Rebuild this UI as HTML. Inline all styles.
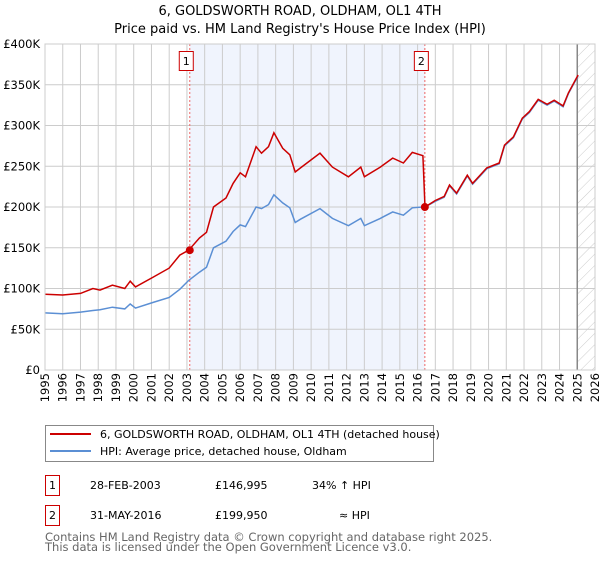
<!DOCTYPE html>
<html><head><meta charset="utf-8"><style>
body{margin:0;background:#fff;}
svg text{font-family:"DejaVu Sans","Liberation Sans",sans-serif;}
</style></head><body>
<svg id="chart" width="600" height="560" xmlns="http://www.w3.org/2000/svg">
<defs>
<pattern id="hatch" patternUnits="userSpaceOnUse" width="8" height="8" patternTransform="rotate(45)">
<line x1="0" y1="0" x2="0" y2="8" stroke="#ccc" stroke-width="1"/></pattern>
</defs>
<text x="300" y="15" text-anchor="middle" font-size="13">6, GOLDSWORTH ROAD, OLDHAM, OL1 4TH</text>
<text x="300" y="33" text-anchor="middle" font-size="13">Price paid vs. HM Land Registry's House Price Index (HPI)</text>
<g id="plot"></g>
<g>
<rect x="45.5" y="425.5" width="388" height="36" fill="#fff" stroke="#888"/>
<line x1="50" y1="434" x2="91" y2="434" stroke="#cc0000" stroke-width="2"/>
<text x="100" y="438" font-size="11">6, GOLDSWORTH ROAD, OLDHAM, OL1 4TH (detached house)</text>
<line x1="50" y1="451" x2="91" y2="451" stroke="#5b8fd4" stroke-width="2"/>
<text x="100" y="455" font-size="11">HPI: Average price, detached house, Oldham</text>
</g>
<g font-size="11">
<rect x="45.5" y="475.5" width="14" height="20" fill="#fff" stroke="#cc0000"/>
<text x="52.5" y="489" text-anchor="middle">1</text>
<text x="90" y="489">28-FEB-2003</text>
<text x="215" y="489">£146,995</text>
<text x="312" y="489">34% ↑ HPI</text>
<rect x="45.5" y="505.5" width="14" height="20" fill="#fff" stroke="#cc0000"/>
<text x="52.5" y="519" text-anchor="middle">2</text>
<text x="90" y="519">31-MAY-2016</text>
<text x="215" y="519">£199,950</text>
<text x="339" y="519">≈ HPI</text>
</g>
<g font-size="11.5" fill="#666">
<text x="45" y="541">Contains HM Land Registry data © Crown copyright and database right 2025.</text>
<text x="45" y="551">This data is licensed under the Open Government Licence v3.0.</text>
</g>
</svg>
<script>
const years=[1995,1996,1997,1997.7,1998.1,1998.8,1999.5,1999.8,2000.1,2001.1,2002.0,2002.6,2003.1,2003.7,2004.1,2004.5,2005.2,2005.6,2006.0,2006.3,2006.9,2007.2,2007.6,2007.9,2008.4,2008.8,2009.1,2009.4,2010.5,2011.2,2012.1,2012.8,2013.0,2013.9,2014.6,2015.2,2015.7,2016.3,2016.42,2017.0,2017.5,2017.8,2018.2,2018.8,2019.1,2019.9,2020.6,2020.9,2021.4,2021.9,2022.3,2022.8,2023.3,2023.7,2024.2,2024.5,2025.05];
const priceK=[93,92,94,100,98,104,100,109,102,114,125,141,147,162,169,200,211,229,242,237,274,266,274,291,272,264,243,248,266,249,237,249,237,249,260,254,267,263,200,208,213,227,217,239,229,248,254,276,286,309,317,332,326,331,324,340,362];
const hpiK=[70,69,71,73,74,77,75,81,76,83,89,99,110,120,126,150,158,170,178,176,200,198,203,215,205,199,181,185,198,186,177,186,177,186,194,190,199,200,200,207,212,226,216,238,228,247,253,275,285,308,316,331,325,330,323,339,361];
const saleYears=[2003.16,2016.41];
const salePrices=[146995,199950];
const saleLabels=["1","2"];
const yTicks=[0,50000,100000,150000,200000,250000,300000,350000,400000];
const yTickLabels=["£0","£50K","£100K","£150K","£200K","£250K","£300K","£350K","£400K"];
const xTicks=[1995,1996,1997,1998,1999,2000,2001,2002,2003,2004,2005,2006,2007,2008,2009,2010,2011,2012,2013,2014,2015,2016,2017,2018,2019,2020,2021,2022,2023,2024,2025,2026];
const dataEnd=2025.0;
const X0=45,X1=595,Y0=370,Y1=44;
const xs=y=>X0+(y-1995)/(2026-1995)*(X1-X0);
const ys=v=>Y0-v/400000*(Y0-Y1);
const NS="http://www.w3.org/2000/svg";
const g=document.getElementById('plot');
function mk(t,a,p){const e=document.createElementNS(NS,t);for(const k in a)e.setAttribute(k,a[k]);(p||g).appendChild(e);return e;}
let e=mk('rect',{x:xs(saleYears[0]),y:Y1,width:xs(saleYears[1])-xs(saleYears[0]),height:Y0-Y1,fill:'#f0f4fd'});


e=mk('rect',{x:xs(dataEnd),y:Y1,width:X1-xs(dataEnd),height:Y0-Y1,fill:'url(#hatch)'});


xTicks.forEach(t=>{
 e=mk('line',{x1:xs(t),x2:xs(t),y1:Y1,y2:Y0,stroke:'#cccccc'});
 
 
 e=mk('text',{x:0,y:0,'font-size':'11.5','text-anchor':'end',transform:`translate(${xs(t)+4},${Y0+3}) rotate(-90)`});
 e.textContent=t;
 
 
});
yTicks.forEach((t,i)=>{
 e=mk('line',{x1:X0,x2:X1,y1:ys(t),y2:ys(t),stroke:'#cccccc'});
 
 
 e=mk('text',{x:X0-5,y:ys(t)+4,'font-size':'11.5','text-anchor':'end'});
 e.textContent=yTickLabels[i];
 
 
});
e=mk('line',{x1:xs(dataEnd),x2:xs(dataEnd),y1:Y1,y2:Y0,stroke:'#888','stroke-width':1.5});


saleYears.forEach((s,i)=>{
 e=mk('line',{x1:xs(s),x2:xs(s),y1:Y1,y2:Y0,stroke:'#ee6666','stroke-dasharray':'2,2'});
 
 
 e=mk('rect',{x:xs(s)-10.5,y:51.5,width:14,height:19,fill:'#fff',stroke:'#cc0000'});
 
 
 e=mk('text',{x:xs(s)-3.5,y:65,'font-size':'11','text-anchor':'middle'});
 e.textContent=saleLabels[i];
 
 
});
const path=arr=>arr.map((v,i)=>(i?'L':'M')+xs(years[i]).toFixed(1)+','+ys(v*1000).toFixed(1)).join('');
e=mk('path',{d:path(hpiK),fill:'none',stroke:'#5b8fd4','stroke-width':1.5});


e=mk('path',{d:path(priceK),fill:'none',stroke:'#cc0000','stroke-width':1.5});


saleYears.forEach((s,i)=>{
 e=mk('circle',{cx:xs(s),cy:ys(salePrices[i]),r:4,fill:'#cc0000'});
 
 
});
e=mk('rect',{x:X0,y:Y1,width:X1-X0,height:Y0-Y1,fill:'none',stroke:'#cccccc'});


</script>
</body></html>
